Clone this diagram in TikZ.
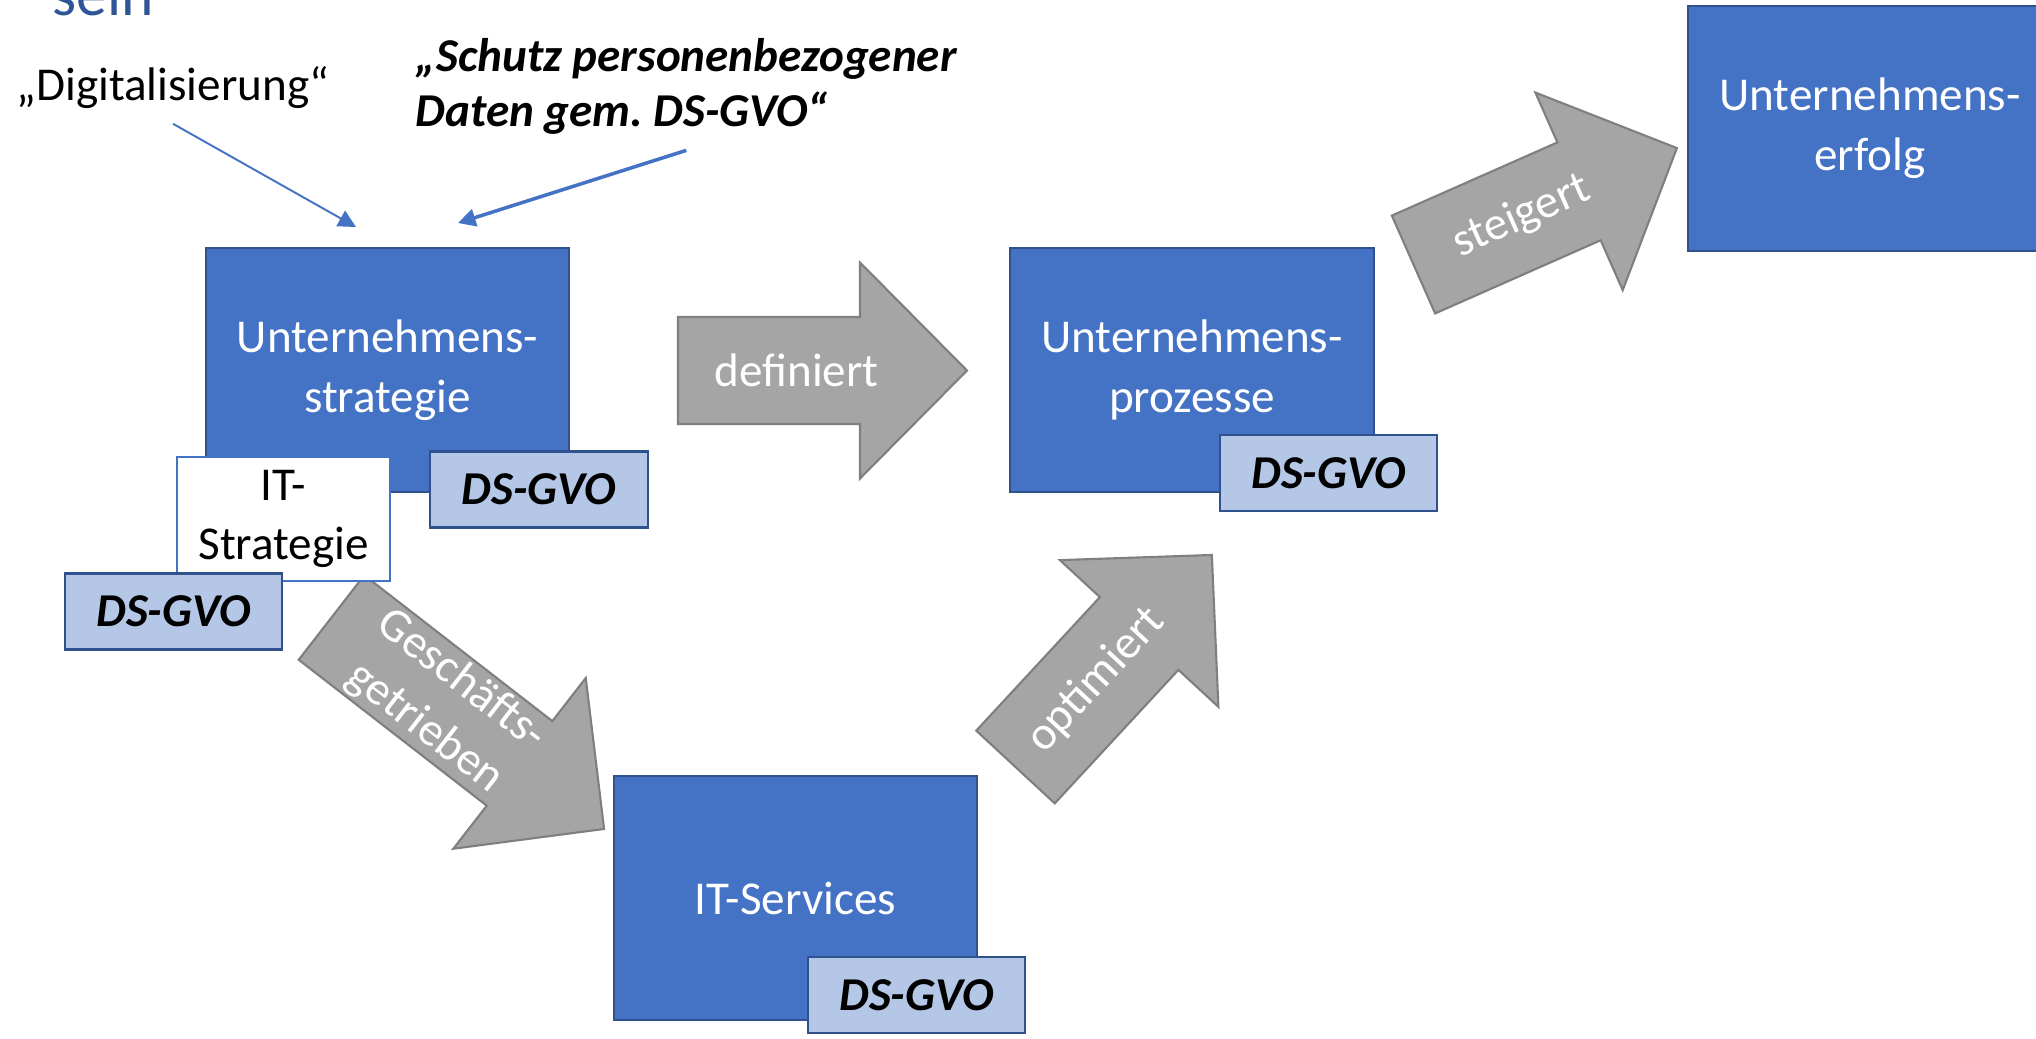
\documentclass[tikz,border=0pt]{standalone}
\usepackage{fontspec}
\setmainfont{Carlito}
\usetikzlibrary{arrows.meta}

\definecolor{boxblau}{HTML}{4472C4}
\definecolor{randblau}{HTML}{2F528F}
\definecolor{dsblau}{HTML}{B4C7E7}
\definecolor{pfeilgrau}{HTML}{A5A5A5}
\definecolor{pfeilrand}{HTML}{7F7F7F}
\definecolor{titelblau}{HTML}{2F5597}
\frenchspacing

\begin{document}
\begin{tikzpicture}[x=0.01cm, y=-0.01cm,
    every node/.style={font=\fontsize{13.4}{17}\selectfont},
    blau/.style={draw=randblau, fill=boxblau, line width=0.6pt, text=white, align=center,
        minimum width=3.63cm, minimum height=2.44cm},
    itbox/.style={draw=boxblau, fill=white, line width=0.6pt, align=center,
        minimum width=2.13cm, minimum height=1.24cm},
    ds/.style={draw=randblau, fill=dsblau, line width=0.6pt,
        minimum width=2.17cm, minimum height=0.76cm,
        font=\fontsize{13.4}{17}\selectfont\bfseries\itshape},
    pfeil/.style={draw=pfeilrand, fill=pfeilgrau, line width=0.6pt},
    pfeiltext/.style={text=white, align=center},
    frei/.style={inner sep=0.15cm, anchor=base west},
    zeiger/.style={draw=boxblau, -{Triangle[length=5pt, width=5pt]}}]
    \useasboundingbox (0,0) rectangle (2036,1038);

    % Blockpfeile
    \foreach \px/\py/\dreh/\len/\txt [count=\i] in {678/370.5/0/289/definiert,
        1413.5/264.5/23.85/288/steigert, 1015.5/767/47.2/289/optimiert,
        331.5/617.5/-37.8/345/{Geschäfts-\\getrieben}}
    {
        \begin{scope}[shift={(\px,\py)}, rotate=\dreh]
            \draw[pfeil] (0,-53.5) -- (\len-107,-53.5) -- (\len-107,-108) -- (\len,0)
                -- (\len-107,108) -- (\len-107,53.5) -- (0,53.5) -- cycle;
            \node[pfeiltext, rotate=\dreh] (pfeil\i) at (0.41*\len,0) {\txt};
        \end{scope}
    }

    % Kaesten
    \node[blau] (ustrat) at (387.5,370) {Unternehmens-\\strategie};
    \node[blau] (uproz) at (1192,370) {Unternehmens-\\prozesse};
    \node[blau] (uerfolg) at (1870,128.5) {Unternehmens-\\erfolg};
    \node[blau] (itserv) at (795.5,898) {IT-Services};
    \node[itbox] (itstrat) at (283.5,519) {IT-\\Strategie};
    \node[ds] (ds1) at (539,489.5) {DS-GVO};
    \node[ds] (ds2) at (173.5,611.5) {DS-GVO};
    \node[ds] (ds3) at (1328.5,473) {DS-GVO};
    \node[ds] (ds4) at (916.5,995) {DS-GVO};

    % Texte oben
    \node[frei, text=titelblau, font=\fontsize{17.5}{21}\selectfont] (sein) at (37,15) {sein};
    \node[frei] (digi) at (1,100) {„Digitalisierung“};
    \node[frei, align=left, font=\fontsize{13.4}{15.6}\selectfont\bfseries\itshape] (schutz)
        at (400,126.7) {„Schutz personenbezogener\\Daten gem. DS-GVO“};

    \coordinate (digiende) at (356,227);
    \coordinate (schutzende) at (458,223);
    \draw[zeiger, line width=0.55pt] (digi.south) -- (digiende);
    \draw[zeiger, line width=1pt] (schutz.south) -- (schutzende);
\end{tikzpicture}
\end{document}
